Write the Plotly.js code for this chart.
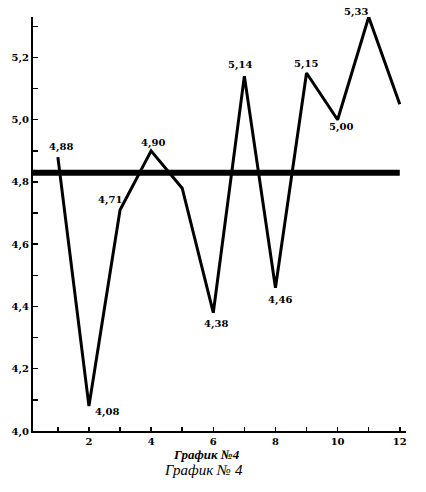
<!DOCTYPE html>
<html>
<head>
<meta charset="utf-8">
<script src="https://cdn.plot.ly/plotly-3.0.1.min.js"></script>
<style>html,body{margin:0;padding:0;background:#fff;}#chart{width:426px;height:492px;}</style>
</head>
<body>
<div id="chart"></div>
<script>
// Data
var periods = [1, 2, 3, 4, 5, 6, 7, 8, 9, 10, 11, 12];
var values = [4.88, 4.08, 4.71, 4.90, 4.78, 4.38, 5.14, 4.46, 5.15, 5.00, 5.33, 5.05];
var labelled = [true, true, true, true, false, true, true, true, true, true, true, false];
var meanLevel = 4.83;
var xTickVals = [2, 4, 6, 8, 10, 12];
var yTickVals = [4.0, 4.2, 4.4, 4.6, 4.8, 5.0, 5.2];
var axisTitle = 'График №4';
var caption = 'График № 4';

// Styles (label offsets in pixels from each point)
var labelDx = [3, 18, -10, 2, 0, 3, -4, 5, -1, 3, -13, 0];
var labelDy = [10, -6, 10, 8, 0, -11, 11, -12, 9, -7, 5, 0];
var xRange = [0.2, 12.2];
var yRange = [4.0, 5.33];
var serif = '"DejaVu Serif", "Liberation Serif", serif';
var capSerif = '"Liberation Serif", "Times New Roman", serif';

var seriesTrace = {
  type: 'scatter', mode: 'lines',
  x: periods, y: values,
  line: {color: '#000', width: 3},
  hoverinfo: 'skip', showlegend: false
};

var meanTrace = {
  type: 'scatter', mode: 'lines',
  x: [xRange[0], periods[periods.length - 1]], y: [meanLevel, meanLevel],
  line: {color: '#000', width: 6},
  hoverinfo: 'skip', showlegend: false
};

var annotations = [];
periods.forEach(function (p, i) {
  if (!labelled[i]) return;
  annotations.push({
    x: p, y: values[i], xref: 'x', yref: 'y',
    text: values[i].toFixed(2).replace('.', ','),
    showarrow: false, xanchor: 'center', yanchor: 'middle',
    xshift: labelDx[i], yshift: labelDy[i],
    font: {family: serif, size: 10, color: '#000', weight: 'bold'}
  });
});
annotations.push({
  text: axisTitle, xref: 'paper', yref: 'paper', x: 0.464, y: 0, yshift: -23,
  xanchor: 'center', yanchor: 'middle', showarrow: false,
  font: {family: capSerif, size: 13, color: '#000', weight: 'bold', style: 'italic'}
});
annotations.push({
  text: caption, xref: 'paper', yref: 'paper', x: 0.456, y: 0, yshift: -39,
  xanchor: 'center', yanchor: 'middle', showarrow: false,
  font: {family: capSerif, size: 15, color: '#000', style: 'italic'}
});

var layout = {
  width: 426, height: 492,
  margin: {l: 33, r: 20, t: 17, b: 61},
  paper_bgcolor: '#fff', plot_bgcolor: '#fff',
  separators: ', ',
  showlegend: false,
  font: {family: serif, color: '#000'},
  xaxis: {
    range: xRange, showgrid: false, zeroline: false,
    showline: true, linecolor: '#000', linewidth: 2,
    tickmode: 'array', tickvals: xTickVals,
    ticks: 'inside', ticklen: 4, tickwidth: 1.5, tickcolor: '#000',
    minor: {dtick: 1, tick0: 0, ticks: 'inside', ticklen: 4, tickwidth: 1.5, tickcolor: '#000'},
    tickfont: {family: serif, size: 10, color: '#000', weight: 'bold'}
  },
  yaxis: {
    range: yRange, showgrid: false, zeroline: false,
    showline: true, linecolor: '#000', linewidth: 2,
    tickmode: 'array', tickvals: yTickVals, tickformat: '.1f',
    ticks: 'inside', ticklen: 5, tickwidth: 1.5, tickcolor: '#000',
    minor: {dtick: 0.1, tick0: 0, ticks: 'inside', ticklen: 5, tickwidth: 1.5, tickcolor: '#000'},
    tickfont: {family: serif, size: 10, color: '#000', weight: 'bold'}
  },
  annotations: annotations
};

Plotly.newPlot('chart', [meanTrace, seriesTrace], layout, {displayModeBar: false, staticPlot: true});
</script>
</body>
</html>
